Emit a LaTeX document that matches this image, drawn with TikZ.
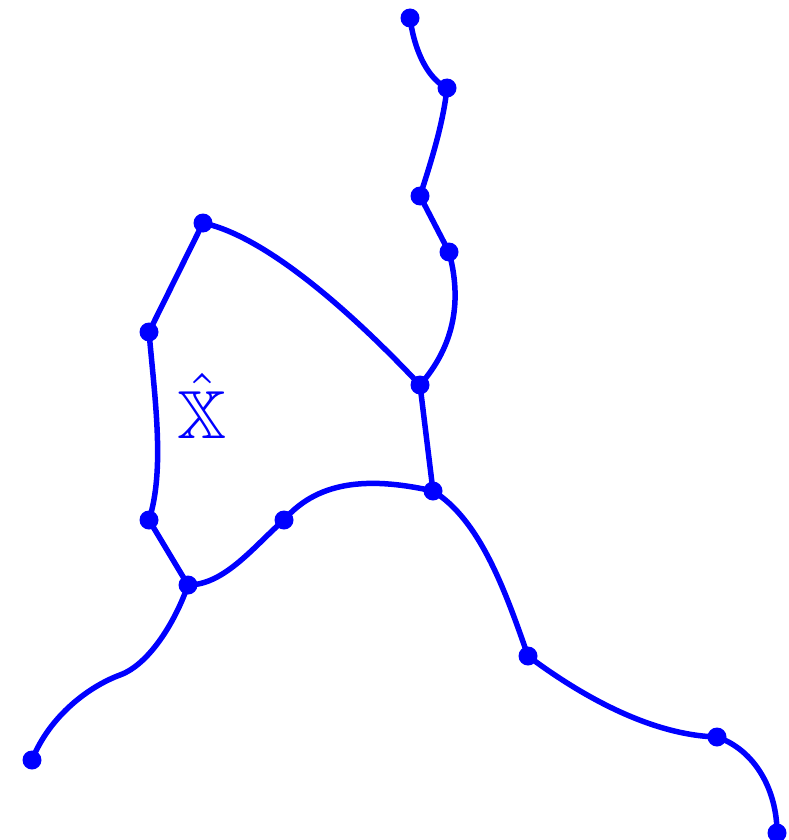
\documentclass[tikz,border=0pt]{standalone}
\usepackage{amssymb}
\begin{document}
\begin{tikzpicture}[x=1pt,y=-1pt,
  edge/.style={blue,line width=5.5pt,line cap=round},
  dot/.style={circle,fill=blue,inner sep=0pt,minimum size=19pt}]
\useasboundingbox (0,0) rectangle (788,840);
\coordinate (A) at (410,18);
\coordinate (B) at (447,88);
\coordinate (C) at (420,196);
\coordinate (D) at (449,252);
\coordinate (E) at (420,385);
\coordinate (F) at (203,223);
\coordinate (G) at (149,332);
\coordinate (H) at (149,520);
\coordinate (I) at (188,585);
\coordinate (J) at (284,520);
\coordinate (K) at (433,491);
\coordinate (L) at (528,656);
\coordinate (M) at (717,737);
\coordinate (N) at (777,833);
\coordinate (O) at (32,760);
\draw[edge] (A) .. controls (415,55) and (430,80) .. (B);
\draw[edge] (B) .. controls (443,125) and (430,165) .. (C);
\draw[edge] (C) -- (D);
\draw[edge] (D) .. controls (462,300) and (455,345) .. (E);
\draw[edge] (F) .. controls (260,235) and (340,300) .. (E);
\draw[edge] (F) -- (G);
\draw[edge] (G) .. controls (155,400) and (165,470) .. (H);
\draw[edge] (H) -- (I);
\draw[edge] (I) .. controls (225,585) and (255,545) .. (J);
\draw[edge] (J) .. controls (320,478) and (375,478) .. (K);
\draw[edge] (E) -- (K);
\draw[edge] (K) .. controls (480,520) and (505,590) .. (L);
\draw[edge] (L) .. controls (580,695) and (650,735) .. (M);
\draw[edge] (M) .. controls (755,750) and (777,790) .. (N);
\draw[edge] (I) .. controls (176,620) and (150,664) .. (120,675)
  .. controls (90,686) and (50,715) .. (O);
\foreach \p in {A,B,C,D,E,F,G,H,I,J,K,L,M,N,O}
  \node[dot] (d\p) at (\p) {};
\node[blue,inner sep=0pt,scale=6.8] (lab) at (202,406) {$\hat{\mathbb{X}}$};
\end{tikzpicture}
\end{document}
